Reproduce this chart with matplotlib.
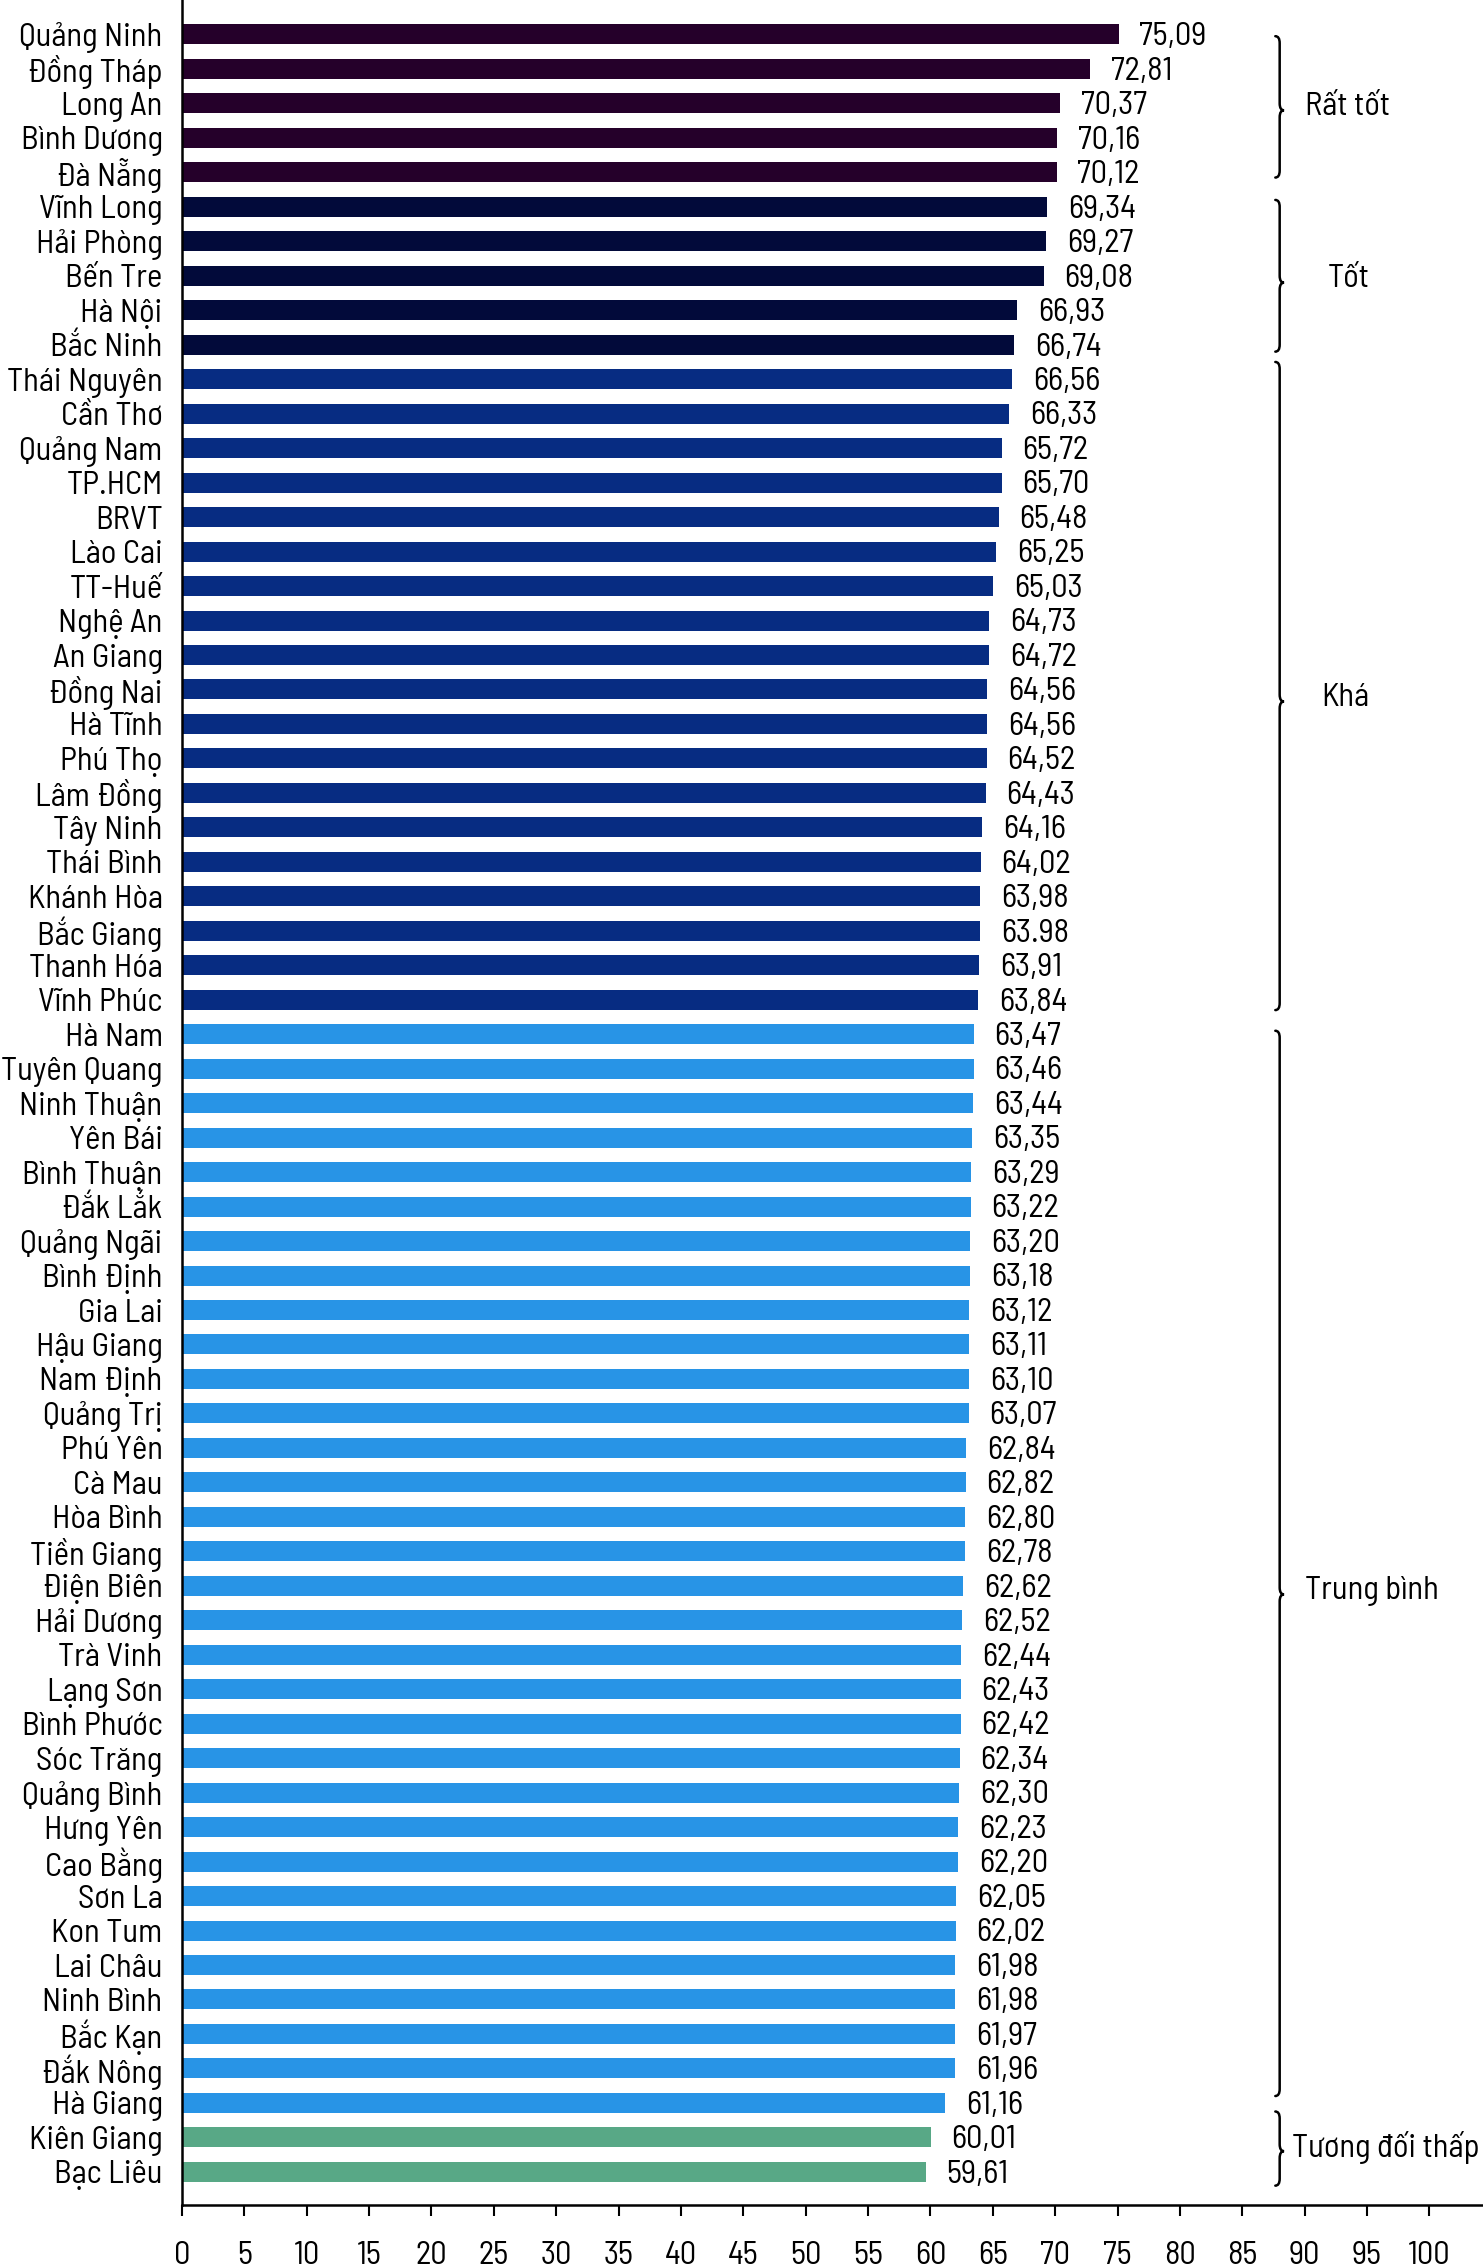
import matplotlib
matplotlib.use('Agg')
import matplotlib.pyplot as plt
from matplotlib.path import Path
from matplotlib.patches import PathPatch

plt.rcParams['font.family'] = ['Barlow Semi Condensed', 'DejaVu Sans']

# provinces, top to bottom
provinces = ['Quảng Ninh', 'Đồng Tháp', 'Long An', 'Bình Dương', 'Đà Nẵng',
             'Vĩnh Long', 'Hải Phòng', 'Bến Tre', 'Hà Nội', 'Bắc Ninh',
             'Thái Nguyên', 'Cần Thơ', 'Quảng Nam', 'TP.HCM', 'BRVT', 'Lào Cai',
             'TT-Huế', 'Nghệ An', 'An Giang', 'Đồng Nai', 'Hà Tĩnh', 'Phú Thọ',
             'Lâm Đồng', 'Tây Ninh', 'Thái Bình', 'Khánh Hòa', 'Bắc Giang',
             'Thanh Hóa', 'Vĩnh Phúc',
             'Hà Nam', 'Tuyên Quang', 'Ninh Thuận', 'Yên Bái', 'Bình Thuận',
             'Đắk Lắk', 'Quảng Ngãi', 'Bình Định', 'Gia Lai', 'Hậu Giang',
             'Nam Định', 'Quảng Trị', 'Phú Yên', 'Cà Mau', 'Hòa Bình',
             'Tiền Giang', 'Điện Biên', 'Hải Dương', 'Trà Vinh', 'Lạng Sơn',
             'Bình Phước', 'Sóc Trăng', 'Quảng Bình', 'Hưng Yên', 'Cao Bằng',
             'Sơn La', 'Kon Tum', 'Lai Châu', 'Ninh Bình', 'Bắc Kạn', 'Đắk Nông',
             'Hà Giang', 'Kiên Giang', 'Bạc Liêu']
scores = [75.09, 72.81, 70.37, 70.16, 70.12,
          69.34, 69.27, 69.08, 66.93, 66.74,
          66.56, 66.33, 65.72, 65.70, 65.48, 65.25, 65.03, 64.73, 64.72, 64.56,
          64.56, 64.52, 64.43, 64.16, 64.02, 63.98, 63.98, 63.91, 63.84,
          63.47, 63.46, 63.44, 63.35, 63.29, 63.22, 63.20, 63.18, 63.12, 63.11,
          63.10, 63.07, 62.84, 62.82, 62.80, 62.78, 62.62, 62.52, 62.44, 62.43,
          62.42, 62.34, 62.30, 62.23, 62.20, 62.05, 62.02, 61.98, 61.98, 61.97,
          61.96, 61.16, 60.01, 59.61]
score_labels = ['75,09', '72,81', '70,37', '70,16', '70,12',
                '69,34', '69,27', '69,08', '66,93', '66,74',
                '66,56', '66,33', '65,72', '65,70', '65,48', '65,25', '65,03',
                '64,73', '64,72', '64,56', '64,56', '64,52', '64,43', '64,16',
                '64,02', '63,98', '63.98', '63,91', '63,84',
                '63,47', '63,46', '63,44', '63,35', '63,29', '63,22', '63,20',
                '63,18', '63,12', '63,11', '63,10', '63,07', '62,84', '62,82',
                '62,80', '62,78', '62,62', '62,52', '62,44', '62,43', '62,42',
                '62,34', '62,30', '62,23', '62,20', '62,05', '62,02', '61,98',
                '61,98', '61,97', '61,96', '61,16', '60,01', '59,61']

# groups: name, number of provinces, colour
group_names = ['Rất tốt', 'Tốt', 'Khá', 'Trung bình', 'Tương đối thấp']
group_sizes = [5, 5, 19, 32, 2]
group_colors = ['#25002a', '#020a3a', '#072c82', '#2894e6', '#58a886']
# brace extents and tip, in bar units
brace_top = [0.05, 4.8, 9.5, 28.9, 60.25]
brace_bot = [4.15, 9.2, 28.3, 59.8, 62.4]
brace_tip = [2.2, 7.2, 19.35, 45.25, 61.4]
label_x = [90.0, 93.5, 93.3, 90.0, 89.0]
label_ha = ['left', 'center', 'center', 'left', 'left']

colors = []
for size, col in zip(group_sizes, group_colors):
    colors += [col] * size

fig = plt.figure(figsize=(14.83, 22.68), dpi=100)
ax = fig.add_axes([0.1227, 0.0278, 0.8773, 0.9722])

y = list(range(len(provinces)))
ax.barh(y, scores, height=0.58, color=colors)
for yi, v, lab in zip(y, scores, score_labels):
    ax.annotate(lab, (v, yi), xytext=(15, -2), textcoords='offset points',
                ha='left', va='center', fontsize=23.5)

ax.set_yticks(y)
ax.set_yticklabels(provinces, fontsize=23.5)
ax.set_ylim(len(provinces) - 0.04, -1.0)
ax.set_xlim(0, 104.3)
ax.set_xticks(range(0, 101, 5))
ax.tick_params(axis='y', length=0, pad=14)
ax.tick_params(axis='x', length=8, width=1.5, pad=18, labelsize=23.5)
for s in ['top', 'right']:
    ax.spines[s].set_visible(False)
ax.spines['left'].set_linewidth(1.8)
ax.spines['bottom'].set_linewidth(1.8)

# braces
bx = 88.0
for name, top, bot, mid, lx, ha in zip(group_names, brace_top, brace_bot, brace_tip, label_x, label_ha):
    verts = [(bx - 0.35, top), (bx, top), (bx, top + 0.2),
             (bx, mid - 0.2), (bx, mid), (bx + 0.35, mid),
             (bx, mid), (bx, mid + 0.2),
             (bx, bot - 0.2), (bx, bot), (bx - 0.35, bot)]
    codes = [Path.MOVETO, Path.CURVE3, Path.CURVE3,
             Path.LINETO, Path.CURVE3, Path.CURVE3,
             Path.CURVE3, Path.CURVE3,
             Path.LINETO, Path.CURVE3, Path.CURVE3]
    ax.add_patch(PathPatch(Path(verts, codes), fill=False, lw=1.8,
                           edgecolor='black', capstyle='round', clip_on=False))
    ax.text(lx, mid - 0.1, name, ha=ha, va='center', fontsize=23.5)

fig.savefig('out.png', dpi=100)
